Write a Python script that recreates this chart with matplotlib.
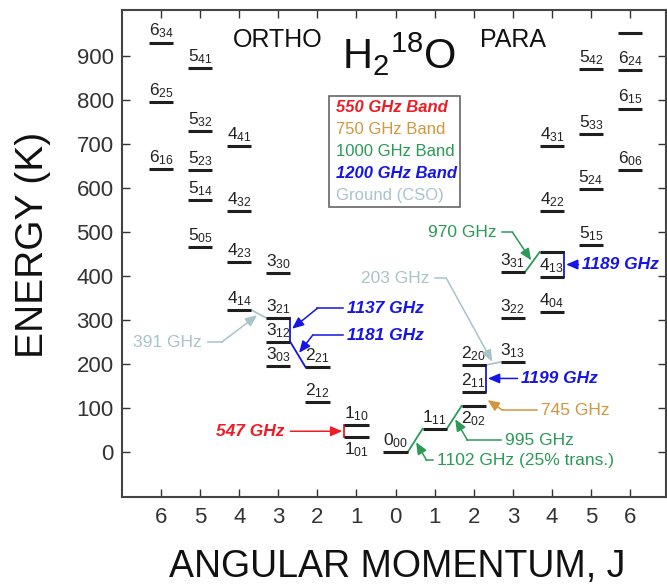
import matplotlib
matplotlib.use('Agg')
import matplotlib.pyplot as plt
from matplotlib.patches import Rectangle

plt.rcParams['font.family'] = ['Liberation Sans', 'DejaVu Sans']
plt.rcParams['mathtext.fontset'] = 'custom'
plt.rcParams['mathtext.rm'] = 'Liberation Sans'
plt.rcParams['mathtext.it'] = 'Liberation Sans:italic'
plt.rcParams['mathtext.bf'] = 'Liberation Sans:bold'
plt.rcParams['mathtext.default'] = 'regular'

# ---------------- data ----------------
ortho_labels = ['6_34', '6_25', '6_16', '5_41', '5_32', '5_23', '5_14', '5_05',
                '4_41', '4_32', '4_23', '4_14', '3_30', '3_21', '3_12', '3_03',
                '2_21', '2_12', '1_10', '1_01']
ortho_J = [6, 6, 6, 5, 5, 5, 5, 5, 4, 4, 4, 4, 3, 3, 3, 3, 2, 2, 1, 1]
ortho_E = [931, 795, 643, 873, 730, 641, 574, 467, 696, 548, 432, 323,
           407, 305, 250, 196, 194, 114, 61, 34]

# labels starting with 'x' are drawn without a label
para_labels = ['0_00', '1_11', '2_02', '2_11', '2_20', '3_13', '3_22', '3_31',
               '4_04', '4_13', 'x4', '4_22', '4_31', '5_15', '5_24', '5_33',
               '5_42', '6_06', '6_15', '6_24', 'x6']
para_J = [0, 1, 2, 2, 2, 3, 3, 3, 4, 4, 4, 4, 4, 5, 5, 5, 5, 6, 6, 6, 6]
para_E = [0, 53, 105, 137, 198, 205, 304, 409, 319, 398, 455, 548, 696,
          470, 598, 722, 870, 641, 781, 868, 952]

labels_below = ['1_01', '2_02']

band_names = ['550 GHz Band', '750 GHz Band', '1000 GHz Band', '1200 GHz Band', 'Ground (CSO)']
band_colors = ['#ee1c25', '#d4953c', '#2b9a57', '#1515e8', '#a8c3c9']
band_bold = [True, False, False, True, False]

trans_names = ['547 GHz', '1137 GHz', '1181 GHz', '391 GHz', '203 GHz', '1199 GHz',
               '745 GHz', '995 GHz', '1102 GHz (25% trans.)', '970 GHz', '1189 GHz']
trans_band = [0, 3, 3, 4, 4, 3, 1, 2, 2, 2, 3]
trans_side = ['o', 'o', 'o', 'o', 'p', 'p', 'p', 'p', 'p', 'p', 'p']
trans_a = ['1_10', '3_21', '3_12', '4_14', '2_20', '2_20', '2_11', '1_11', '0_00', '3_31', 'x4']
trans_b = ['1_01', '3_12', '2_21', '3_21', '3_13', '2_11', '2_02', '2_02', '1_11', 'x4', '4_13']
trans_kind = ['left', 'right', 'diag', 'diag', 'diag', 'right', 'none', 'diag', 'diag', 'diag', 'right']

# annotation layout (data coordinates)
ann_text = [(-2.84, 47.5), (-1.25, 327), (-1.25, 266), (-4.96, 250), (0.87, 395),
            (3.22, 167.5), (3.73, 95), (2.79, 27), (1.05, -18), (2.58, 500), (4.78, 426.5)]
ann_ha = ['right', 'left', 'left', 'right', 'right', 'left', 'left', 'left', 'left', 'right', 'left']
ann_elbow = [None, (-2.0, 327), (-2.12, 266), (-4.45, 250), (1.3, 395), None,
             (2.74, 95), (1.84, 27), (0.79, -18), (2.99, 500), None]

HW = 0.31  # half width of level bars

fig = plt.figure(figsize=(6.67, 5.84), dpi=100)
ax = fig.add_axes([122 / 667, 1 - 497 / 584, (666 - 122) / 667, (497 - 10) / 584])
ax.set_xlim(-7.0, 6.92)
ax.set_ylim(-102, 1005)

levels = {}
for lab, J, E in zip(ortho_labels, ortho_J, ortho_E):
    levels[('o', lab)] = (-J, E)
for lab, J, E in zip(para_labels, para_J, para_E):
    levels[('p', lab)] = (J, E)


def fmt(lab):
    m, s = lab.split('_')
    return '$%s_{%s}$' % (m, s)


for (side, lab), (x, E) in levels.items():
    ax.plot([x - HW, x + HW], [E, E], color='#1e1e1e', lw=2.2, solid_capstyle='butt', zorder=3)
    if lab.startswith('x'):
        continue
    if lab in labels_below:
        ax.annotate(fmt(lab), xy=(x, E), xytext=(0, -2.5), textcoords='offset points',
                    ha='center', va='top', fontsize=12.5, color='#222222')
    else:
        ax.annotate(fmt(lab), xy=(x, E), xytext=(0, 1.5), textcoords='offset points',
                    ha='center', va='bottom', fontsize=12.5, color='#222222')

# transitions
for i, name in enumerate(trans_names):
    col = band_colors[trans_band[i]]
    xa, Ea = levels[(trans_side[i], trans_a[i])]
    xb, Eb = levels[(trans_side[i], trans_b[i])]
    kind = trans_kind[i]
    if kind == 'left':
        lx = xa - HW
        ax.plot([lx, lx], [Ea, Eb], color=col, lw=1.3, zorder=2)
        tgt = (lx, (Ea + Eb) / 2)
    elif kind == 'right':
        lx = xa + HW
        ax.plot([lx, lx], [Ea, Eb], color=col, lw=1.3, zorder=2)
        tgt = (lx, (Ea + Eb) / 2)
    elif kind == 'diag':
        if xa > xb:
            xa, Ea, xb, Eb = xb, Eb, xa, Ea
        p0 = (xa + HW, Ea)
        p1 = (xb - HW, Eb)
        ax.plot([p0[0], p1[0]], [p0[1], p1[1]], color=col, lw=1.3, zorder=2)
        tgt = ((p0[0] + p1[0]) / 2, (p0[1] + p1[1]) / 2)
    else:
        tgt = (xa + HW, (Ea + Eb) / 2)

    b = band_bold[trans_band[i]]
    tx, ty = ann_text[i]
    ax.text(tx, ty, name, ha=ann_ha[i], va='center', fontsize=12.5, color=col,
            fontweight='bold' if b else 'normal', fontstyle='italic' if b else 'normal')
    sx = tx + 0.15 if ann_ha[i] == 'right' else tx - 0.1
    start = (sx, ty)
    if ann_elbow[i] is not None:
        ax.plot([sx, ann_elbow[i][0]], [ty, ann_elbow[i][1]], color=col, lw=1.1)
        start = ann_elbow[i]
    ax.annotate('', xy=tgt, xytext=start,
                arrowprops=dict(arrowstyle='-|>,head_length=0.7,head_width=0.3',
                                color=col, lw=1.1, shrinkA=0, shrinkB=1.5,
                                mutation_scale=10))

# legend box
ax.add_patch(Rectangle((-1.71, 557), 3.35, 252, fill=False, edgecolor='#666666', lw=1.2))
for k, (nm, c, b) in enumerate(zip(band_names, band_colors, band_bold)):
    ax.text(-1.53, 784 - k * 50, nm, color=c, fontsize=12, va='center', ha='left',
            fontweight='bold' if b else 'normal', fontstyle='italic' if b else 'normal')

# titles
ax.text(-4.17, 936, 'ORTHO', fontsize=18, ha='left', va='center', color='#111111')
ax.text(2.15, 936, 'PARA', fontsize=18, ha='left', va='center', color='#111111')
ax.text(-1.38, 870, 'H$_2$$^{18}$O', fontsize=30, ha='left', va='baseline', color='#111111')

# axes styling
xt = list(range(-6, 7))
ax.set_xticks(xt)
ax.set_xticklabels([str(abs(v)) for v in xt])
ax.set_yticks(range(0, 1000, 100))
ax.tick_params(direction='in', length=6, width=1, top=True, right=True,
               labelsize=16, colors='#333333')
ax.tick_params(axis='x', pad=7)
ax.tick_params(axis='y', pad=6)
for sp in ax.spines.values():
    sp.set_color('#444444')
    sp.set_linewidth(1.5)

fig.text(33 / 667, 1 - 245 / 584, 'ENERGY (K)', rotation=90, ha='center', va='center',
         fontsize=28, color='#111111')
fig.text(397 / 667, 1 - 567 / 584, 'ANGULAR MOMENTUM, J', ha='center', va='center',
         fontsize=27, color='#111111')

fig.savefig('out.png', dpi=100)
